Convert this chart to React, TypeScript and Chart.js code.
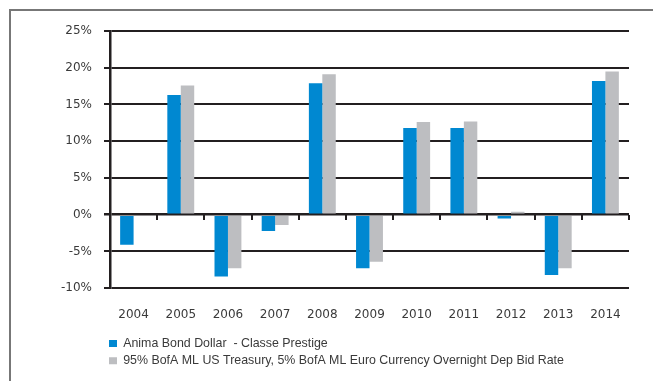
import React, { useEffect, useRef } from "react";
import { Chart, registerables } from "chart.js";

Chart.register(...registerables);

const years = ["2004", "2005", "2006", "2007", "2008", "2009", "2010", "2011", "2012", "2013", "2014"];
const fundLabel = "Anima Bond Dollar  - Classe Prestige";
const benchLabel = "95% BofA ML US Treasury, 5% BofA ML Euro Currency Overnight Dep Bid Rate";
const fundValues = [-4.1, 16.3, -8.4, -2.2, 17.9, -7.3, 11.8, 11.8, -0.5, -8.2, 18.2];
const benchValues = [null, 17.6, -7.3, -1.4, 19.1, -6.4, 12.6, 12.7, 0.4, -7.3, 19.5];
const yMin = -10;
const yMax = 25;
const yStep = 5;

const BLUE = "#0088d1";
const GRAY = "#bdbec1";
const LINE = "#231f20";
const TEXT = "#3a3a3a";

export default function App() {
  const ref = useRef<HTMLCanvasElement | null>(null);

  useEffect(() => {
    if (!ref.current) return;
    const chart = new Chart(ref.current, {
      type: "bar",
      data: {
        labels: years,
        datasets: [
          {
            label: fundLabel,
            data: fundValues,
            backgroundColor: BLUE,
            borderWidth: 0,
            categoryPercentage: 0.57,
            barPercentage: 1.0,
          },
          {
            label: benchLabel,
            data: benchValues as any,
            backgroundColor: GRAY,
            borderWidth: 0,
            categoryPercentage: 0.57,
            barPercentage: 1.0,
          },
        ],
      },
      options: {
        responsive: false,
        animation: false,
        layout: { padding: { left: 104, right: 24, top: 31, bottom: 4 } },
        plugins: {
          tooltip: { enabled: false },
          legend: {
            position: "bottom",
            align: "start",
            labels: {
              boxWidth: 8,
              boxHeight: 7,
              padding: 5,
              color: TEXT,
              font: { family: "'Liberation Sans', Arial, sans-serif", size: 12.4 },
            },
          },
        },
        scales: {
          x: {
            type: "category",
            grid: { display: false, drawTicks: false },
            border: { display: false },
            ticks: {
              color: TEXT,
              padding: 19.5,
              maxRotation: 0,
              font: { family: "'DejaVu Sans', sans-serif", size: 12 },
            },
            afterFit: (scale: any) => {
              scale.height = 44;
            },
          },
          x2: {
            type: "category",
            position: { y: 0 } as any,
            offset: true,
            grid: {
              offset: true,
              drawOnChartArea: false,
              drawTicks: true,
              tickLength: 5,
              color: LINE,
              lineWidth: 2,
            },
            border: { display: false },
            ticks: { display: false },
          },
          y: {
            min: yMin,
            max: yMax,
            ticks: {
              stepSize: yStep,
              color: TEXT,
              padding: 12,
              font: { family: "'DejaVu Sans', sans-serif", size: 12 },
              callback: (v: any) => `${v}%`,
            },
            grid: {
              color: LINE,
              lineWidth: (ctx: any) => (ctx.tick && ctx.tick.value === 0 ? 2.5 : 2),
              tickLength: 6,
              drawTicks: true,
            },
            border: { display: true, color: LINE, width: 2.5 },
            afterFit: (scale: any) => {
              scale.width = 6;
              // let the tick labels extend into the left padding (no clipping to the slim axis box)
              scale._computeLabelArea = () => undefined;
            },
          },
        },
      },
    });
    return () => chart.destroy();
  }, []);

  return (
    <div style={{ position: "absolute", left: 0, top: 0, width: 653, height: 381, overflow: "hidden", background: "#fff" }}>
      <div
        style={{
          position: "absolute",
          left: 9,
          top: 9,
          width: 700,
          height: 420,
          borderLeft: "2px solid #777",
          borderTop: "2px solid #777",
        }}
      />
      <canvas ref={ref} width={653} height={381} style={{ position: "absolute", left: 0, top: 0 }} />
    </div>
  );
}
